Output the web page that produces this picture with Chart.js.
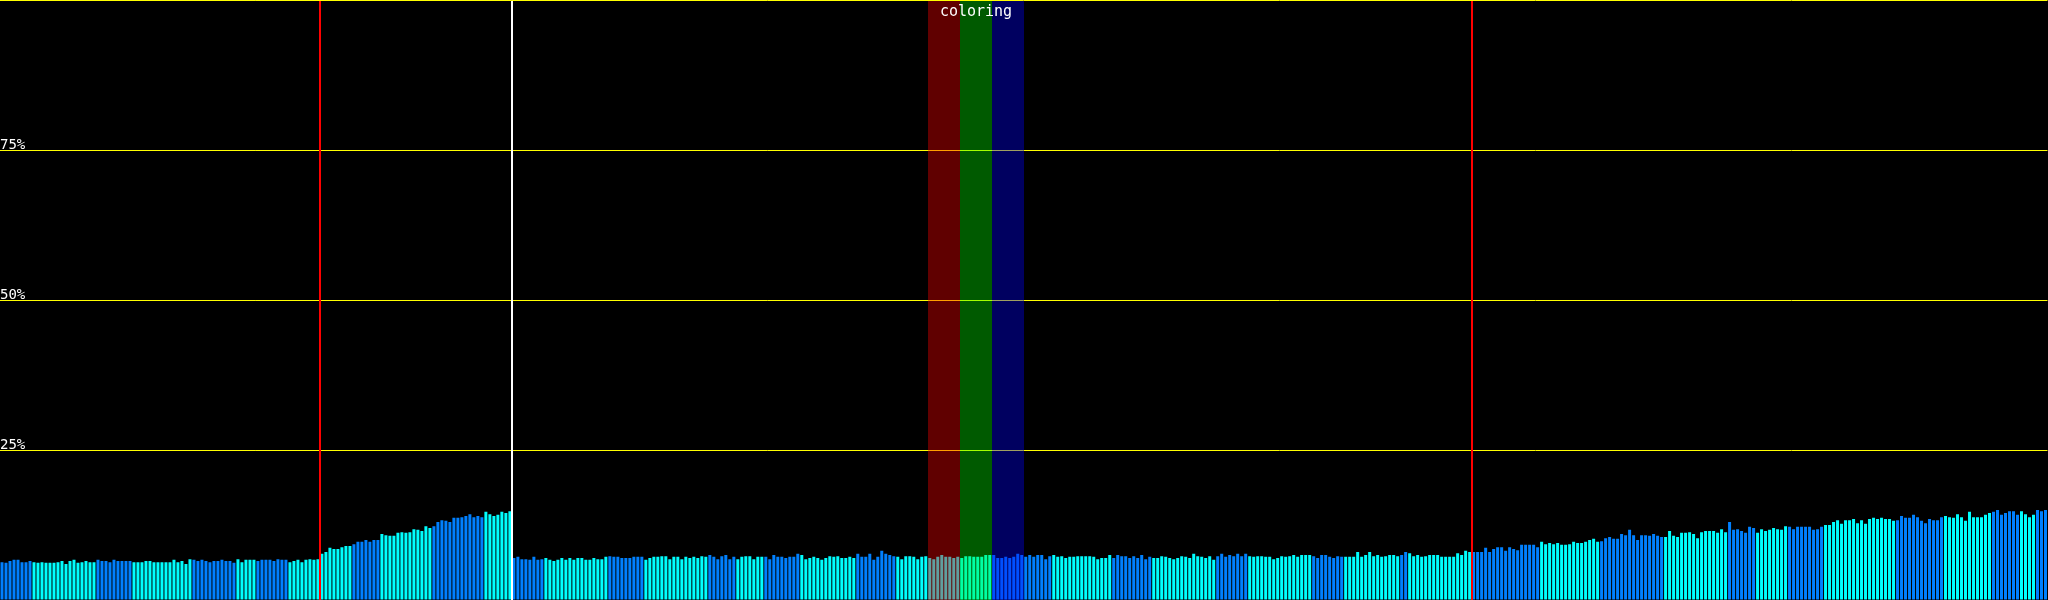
<!DOCTYPE html>
<html>
<head>
<meta charset="utf-8">
<script src="https://cdn.jsdelivr.net/npm/chart.js@4.4.0/dist/chart.umd.min.js"></script>
<style>
    html, body { margin: 0; padding: 0; background: #000; }
    #wrap { width: 2048px; height: 600px; }
</style>
</head>
<body>
<div id="wrap"><canvas id="myCanvas" width="2048" height="600"></canvas></div>
<script>
'use strict';

// bar values (%), one per sample
var values = [
    6.3,6.2,6.5,6.7,6.7,6.3,6.3,6.5,6.3,6.2, 6.3,6.2,6.2,6.2,6.3,6.5,6.0,6.5,6.7,6.2,
    6.3,6.5,6.3,6.3,6.7,6.5,6.5,6.3,6.7,6.5, 6.5,6.5,6.5,6.3,6.3,6.3,6.5,6.5,6.3,6.3,
    6.3,6.3,6.3,6.7,6.3,6.5,6.0,6.8,6.7,6.5, 6.7,6.5,6.3,6.5,6.5,6.7,6.5,6.5,6.2,6.8,
    6.3,6.7,6.7,6.7,6.5,6.7,6.7,6.7,6.5,6.8, 6.7,6.7,6.3,6.5,6.7,6.3,6.7,6.8,6.7,6.8,
    7.7,8.0,8.7,8.5,8.5,8.8,9.0,9.0,9.3,9.7, 9.7,10.0,9.7,10.0,10.0,11.0,10.8,10.7,10.7,11.2,
    11.3,11.2,11.3,11.8,11.7,11.5,12.3,12.0,12.3,13.0, 13.3,13.2,13.0,13.7,13.7,13.8,14.0,14.3,13.8,14.0,
    13.8,14.7,14.3,14.0,14.2,14.7,14.5,14.8,
    7.0,7.2,6.8,6.8,6.7,7.2,
    6.7,6.8,7.0,6.7,6.5,6.7,7.0,6.7,7.0,6.7, 7.0,7.0,6.7,6.7,7.0,6.8,6.8,7.2,7.3,7.2,
    7.2,7.0,7.0,7.0,7.2,7.2,7.2,6.7,7.0,7.2, 7.2,7.3,7.3,6.8,7.2,7.2,6.8,7.2,7.0,7.2,
    7.0,7.3,7.2,7.5,7.2,6.8,7.3,7.5,6.8,7.2, 6.8,7.2,7.3,7.3,6.8,7.2,7.2,7.2,6.8,7.5,
    7.2,7.2,7.0,7.2,7.2,7.7,7.5,6.8,7.0,7.2, 7.0,6.7,7.0,7.3,7.2,7.3,7.0,7.0,7.2,7.0,
    7.7,7.2,7.2,7.7,6.7,7.2,8.2,
    7.7,7.5,7.3,7.2,6.8,7.3,7.3,7.2,6.8,7.2, 7.3,7.0,6.8,7.2,7.5,7.2,7.2,7.0,7.2,7.0,
    7.3,7.3,7.2,7.2,7.2,7.5,7.5,7.5,7.0,7.0, 7.2,7.0,7.2,7.7,7.5,7.2,7.5,7.2,7.5,7.5,
    6.8,7.3,7.5,7.2,7.3,7.0,7.2,7.2,7.3,7.3, 7.3,7.3,7.2,6.8,7.0,7.0,7.5,7.0,7.5,7.3,
    7.3,7.0,7.3,7.0,
    7.5,6.8,7.2,7.0,7.0,7.3,7.2,7.0,6.8,7.0, 7.3,7.2,7.0,7.7,7.3,7.2,7.0,7.3,6.7,7.3,
    7.7,7.2,7.5,7.3,7.7,7.3,7.7,7.3,7.2,7.3, 7.3,7.2,7.2,6.8,7.0,7.3,7.2,7.3,7.5,7.2,
    7.5,7.5,7.5,7.3,7.0,7.5,7.5,7.2,7.0,7.3, 7.2,7.2,7.2,7.2,8.0,7.2,7.5,8.0,7.3,7.5,
    7.2,7.3,7.5,7.5,7.3,7.5,
    8.0,7.8,7.3,7.5,7.2,7.3,7.5,7.5,7.5,7.2, 7.2,7.2,7.2,7.8,7.5,8.2,8.0,8.0,8.0,8.0,
    8.7,8.0,8.5,8.8,8.8,8.2,8.8,8.5,8.3,9.2, 9.2,9.2,9.2,8.8,9.7,9.3,9.5,9.3,9.5,9.2,
    9.2,9.3,9.7,9.5,9.5,9.7,10.0,10.2,9.7,9.8, 10.3,10.5,10.2,10.2,11.0,10.8,11.7,10.8,10.0,10.8,
    10.8,10.7,11.0,10.7,
    10.5,10.5,11.5,10.7,10.5,11.2,11.2,11.3,11.0,10.3, 11.3,11.5,11.5,11.5,11.2,11.8,11.3,13.0,11.7,11.8,
    11.5,11.2,12.2,12.0,11.2,11.8,11.5,11.7,12.0,11.8, 11.7,12.3,12.2,11.8,12.2,12.2,
    12.2,12.2,11.7,11.8,12.2,12.5,12.5,13.0,13.3,12.7, 13.3,13.3,13.5,12.8,13.3,12.7,13.5,13.7,13.5,13.7,
    13.5,13.5,13.2,13.3,14.0,13.7,13.7,14.2,13.8,13.2, 12.8,13.5,13.3,13.3,13.8,14.0,13.8,13.7,14.3,13.8,
    13.2,14.7,13.8,13.8,13.8,14.2,14.5,14.7,15.0,14.2, 14.5,14.8,14.8,14.2,14.8,14.3,13.8,14.2,15.0,14.8,
    15.0
];

// alternating colour groups (run lengths, starting with the first colour)
var colorRuns = [8, 16, 9, 15, 11, 5, 8, 16, 7, 13, 13, 7,
                 8, 16, 9, 16, 7, 7, 9, 14, 10, 24, 15, 15,
                 10, 16, 8, 16, 8, 14, 2, 16, 17, 15, 16, 16,
                 7, 8, 9, 18, 12, 12, 7, 4, 3];
var groupColors = ['#0080ff', '#00ffff'];

// y axis ticks
var yTicks = [25, 50, 75];

// marker lines (sample index)
var redMarkers = [80, 368];
var whiteMarkers = [128];

// highlighted band ("coloring")
var bandTitle = 'coloring';
var bandStart = [232, 240, 248];
var bandEnd = [240, 248, 256];
var bandColors = ['rgba(255,0,0,0.376)', 'rgba(0,255,0,0.353)', 'rgba(0,0,255,0.376)'];

var labels = values.map(function (v, i) { return String(i); });

var barColors = [];
colorRuns.forEach(function (len, k) {
    for (var j = 0; j < len; j++) {
        barColors.push(groupColors[k % 2]);
    }
});

// left edge of a sample's slot (category scale is offset by half a slot)
function slotLeft(scale, i) {
    return Math.round(scale.getPixelForValue(i) - scale.width / labels.length / 2);
}

var overlays = {
    id: 'overlays',
    afterDatasetsDraw: function (chart) {
        var ctx = chart.ctx, x = chart.scales.x, area = chart.chartArea;
        ctx.save();
        for (var b = 0; b < bandStart.length; b++) {
            var x0 = slotLeft(x, bandStart[b]), x1 = slotLeft(x, bandEnd[b]);
            ctx.fillStyle = bandColors[b];
            ctx.fillRect(x0, 1, x1 - x0, area.bottom - 1);
        }
        ctx.restore();
    },
    afterDraw: function (chart) {
        var ctx = chart.ctx, x = chart.scales.x, area = chart.chartArea;
        ctx.save();
        ctx.lineWidth = 2;
        function vline(i, color) {
            var px = slotLeft(x, i);
            ctx.strokeStyle = color;
            ctx.beginPath();
            ctx.moveTo(px, 1);
            ctx.lineTo(px, area.bottom);
            ctx.stroke();
        }
        redMarkers.forEach(function (i) { vline(i, '#ff0000'); });
        whiteMarkers.forEach(function (i) { vline(i, '#ffffff'); });

        // band title, centred over the bands
        var mid = (slotLeft(x, bandStart[0]) + slotLeft(x, bandEnd[bandEnd.length - 1])) / 2;
        ctx.fillStyle = '#ffffff';
        ctx.font = '15px "DejaVu Sans Mono", monospace';
        ctx.textAlign = 'center';
        ctx.textBaseline = 'alphabetic';
        ctx.fillText(bandTitle, mid, 16);
        ctx.restore();
    }
};

var ctx = document.getElementById('myCanvas').getContext('2d');
var chart = new Chart(ctx, {
    type: 'bar',
    data: {
        labels: labels,
        datasets: [{
            data: values,
            backgroundColor: barColors,
            borderWidth: 0,
            inflateAmount: 0,
            barPercentage: 0.75,
            categoryPercentage: 1
        }]
    },
    options: {
        responsive: false,
        devicePixelRatio: 1,
        animation: false,
        // half-pixel shift so 3px bars land on whole pixels
        layout: { padding: { left: -0.5, right: 0.5, top: 0, bottom: 0 } },
        plugins: {
            legend: { display: false },
            tooltip: { enabled: false },
            title: { display: false }
        },
        scales: {
            x: {
                display: false
            },
            y: {
                min: 0,
                max: 100,
                z: 1,
                border: { display: false },
                grid: { color: '#ffff00', lineWidth: 1, drawTicks: false },
                afterBuildTicks: function (axis) {
                    axis.ticks = [0].concat(yTicks, [100]).map(function (v) { return { value: v }; });
                },
                afterFit: function (axis) {
                    axis.paddingTop = 0;
                    axis.paddingBottom = 0;
                },
                ticks: {
                    mirror: true,
                    padding: 0,
                    labelOffset: -5,
                    color: '#ffffff',
                    font: { family: '"DejaVu Sans Mono", monospace', size: 14 },
                    callback: function (v) {
                        return yTicks.indexOf(v) >= 0 ? v + '%' : '';
                    }
                }
            }
        }
    },
    plugins: [overlays]
});
</script>
</body>
</html>
